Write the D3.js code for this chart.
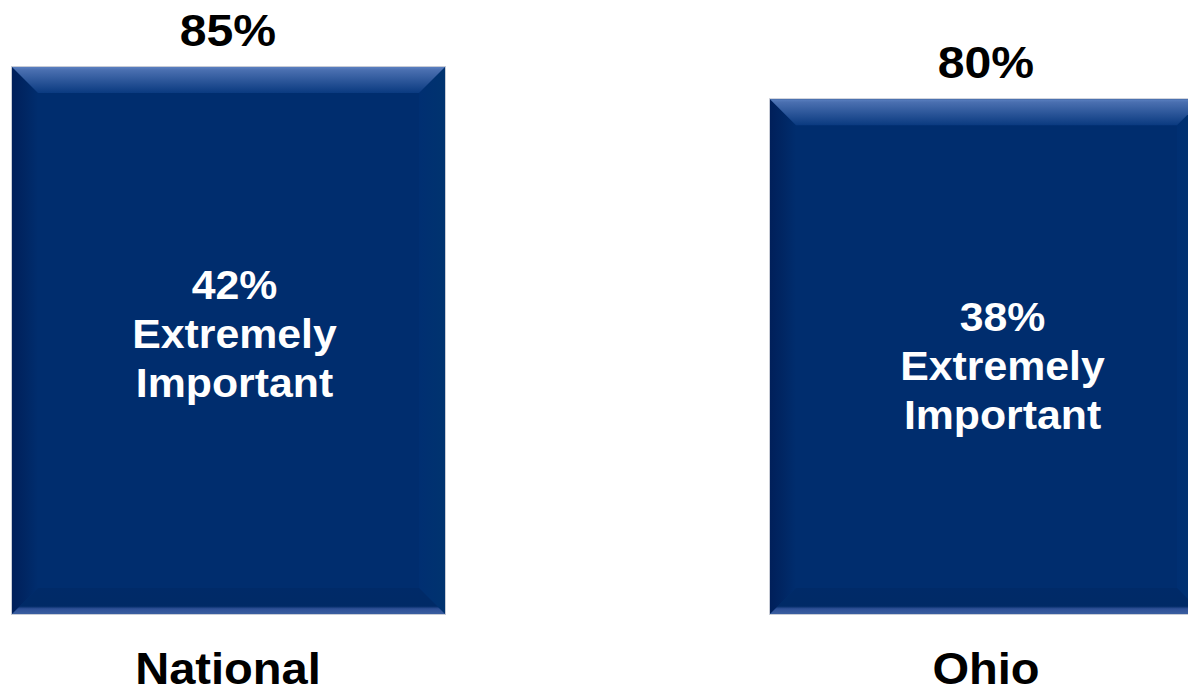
<!DOCTYPE html>
<html><head><meta charset="utf-8">
<script src="https://cdn.jsdelivr.net/npm/d3@7"></script>
<style>body{margin:0;background:#fff;overflow:hidden}svg{display:block}text{font-family:"Liberation Sans",Arial,sans-serif;font-weight:bold}</style>
</head><body><svg id="c" width="1188" height="694"></svg>
<script>
const categories = ["National", "Ohio"];
const totalValues = [85, 80];
const extremelyValues = [42, 38];
const innerLabel = ["Extremely", "Important"];

const W = 1188, H = 694;
const svg = d3.select("#c");
const x = d3.scaleBand().domain(categories).range([12, 1203]).paddingInner(0.4288).paddingOuter(0);
const y = d3.scaleLinear().domain([0, 85]).range([614, 67]);
const innerDx = [6, 16];
const bev = 26;

const defs = svg.append("defs");
function lg(id, x1, y1, x2, y2, stops) {
  const g = defs.append("linearGradient").attr("id", id).attr("x1", x1).attr("y1", y1).attr("x2", x2).attr("y2", y2);
  stops.forEach(s => g.append("stop").attr("offset", s[0]).attr("stop-color", s[1]));
}
lg("gTop", 0, 0, 0, 1, [[0, "#5a80c0"], [0.12, "#4a6fb0"], [1, "#0a3a80"]]);
lg("gLeft", 0, 0, 1, 0, [[0, "#001f5a"], [0.5, "#002663"], [1, "#002d6e"]]);
lg("gRight", 0, 0, 1, 0, [[0, "#002f72"], [1, "#00336f"]]);
lg("gBot", 0, 0, 0, 1, [[0, "#002a68"], [0.7, "#002a66"], [0.8, "#2e5096"], [1, "#3a5ea0"]]);

const g = svg.append("g");
categories.forEach((c, i) => {
  const x0 = x(c), x1 = x0 + x.bandwidth(), y0 = y(totalValues[i]), y1 = y(0);
  const bg = g.append("g");
  bg.append("rect").attr("x", x0 - 1).attr("y", y0 - 1).attr("width", x1 - x0 + 2).attr("height", y1 - y0 + 2).attr("fill", "#c8ccd6");
  bg.append("rect").attr("x", x0).attr("y", y0).attr("width", x1 - x0).attr("height", y1 - y0).attr("fill", "#002d6e");
  const p = pts => pts.map(q => q.join(",")).join(" ");
  bg.append("polygon").attr("points", p([[x0, y0], [x0 + bev, y0 + bev], [x0 + bev, y1 - bev], [x0, y1]])).attr("fill", "url(#gLeft)");
  bg.append("polygon").attr("points", p([[x1, y0], [x1 - bev, y0 + bev], [x1 - bev, y1 - bev], [x1, y1]])).attr("fill", "url(#gRight)");
  bg.append("polygon").attr("points", p([[x0, y1], [x0 + bev, y1 - bev], [x1 - bev, y1 - bev], [x1, y1]])).attr("fill", "url(#gBot)");
  bg.append("polygon").attr("points", p([[x0, y0], [x1, y0], [x1 - bev, y0 + bev], [x0 + bev, y0 + bev]])).attr("fill", "url(#gTop)");

  const cx = x0 + x.bandwidth() / 2;
  const labelCx = c === "Ohio" ? 986 : cx - 0.5;
  g.append("text").attr("transform", `translate(${labelCx},${y0 - 21}) scale(1.07,1)`).attr("text-anchor", "middle")
    .attr("font-size", 45).attr("fill", "#000").text(totalValues[i] + "%");
  const it = g.append("text").attr("transform", `translate(${cx + innerDx[i]},${y0 + 232}) scale(1.07,1)`)
    .attr("text-anchor", "middle").attr("font-size", 40).attr("fill", "#fff");
  [extremelyValues[i] + "%"].concat(innerLabel).forEach((t, k) => {
    it.append("tspan").attr("x", 0).attr("y", k * 49).text(t);
  });
  g.append("text").attr("transform", `translate(${labelCx},684) scale(1.07,1)`).attr("text-anchor", "middle")
    .attr("font-size", 44).attr("fill", "#000").text(c);
});
</script></body></html>
